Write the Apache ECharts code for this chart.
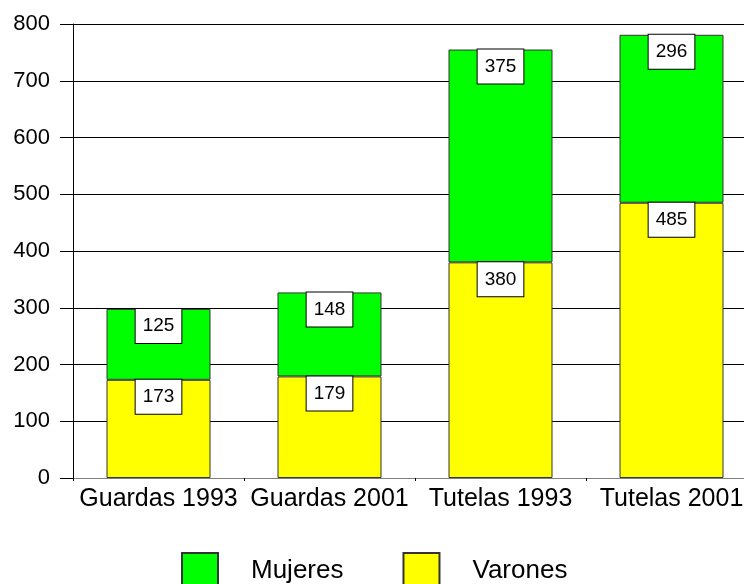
<!DOCTYPE html>
<html>
<head>
<meta charset="utf-8">
<script src="https://cdn.jsdelivr.net/npm/echarts@6/dist/echarts.min.js"></script>
<style>
  html, body { margin: 0; padding: 0; background: #fff; }
  #chart { width: 744px; height: 584px; }
</style>
</head>
<body>
<div id="chart"></div>
<script>
var categories = ["Guardas 1993", "Guardas 2001", "Tutelas 1993", "Tutelas 2001"];
var varones = [173, 179, 380, 485];
var mujeres = [125, 148, 375, 296];
var yTicks = { min: 0, max: 800, interval: 100 };

var chart = echarts.init(document.getElementById("chart"));

var labelStyle = {
  show: true,
  position: "insideTop",
  distance: 0,
  color: "#000",
  fontFamily: "Liberation Sans, Arial, sans-serif",
  fontSize: 19,
  lineHeight: 20,
  backgroundColor: "#fff",
  borderColor: "#000",
  borderWidth: 1,
  padding: [7, 7, 7, 7],
};

var options = {
  animation: false,
  textStyle: { fontFamily: "Liberation Sans, Arial, sans-serif" },
  grid: {
    left: 73,
    width: 684,
    top: 24,
    bottom: 106,
    containLabel: false,
    outerBoundsMode: "none",
  },
  legend: {
    data: ["Mujeres", "Varones"],
    left: 181,
    top: 552,
    padding: 0,
    itemWidth: 36,
    itemHeight: 36,
    itemGap: 59,
    icon: "rect",
    textStyle: {
      color: "#000",
      fontSize: 26,
      padding: [0, 0, 0, 28],
    },
  },
  xAxis: {
    type: "category",
    data: categories,
    axisLine: { lineStyle: { color: "#808080", width: 1 } },
    axisTick: { show: true, length: 3, lineStyle: { color: "#000" } },
    axisLabel: {
      interval: 0,
      color: "#000",
      fontSize: 25,
      margin: 9,
    },
  },
  yAxis: {
    type: "value",
    min: yTicks.min,
    max: yTicks.max,
    interval: yTicks.interval,
    axisLine: { show: true, lineStyle: { color: "#000" } },
    axisTick: { show: true, length: 13, lineStyle: { color: "#000" } },
    axisLabel: { color: "#000", fontSize: 22, margin: 23 },
    splitLine: { show: true, lineStyle: { color: "#000", width: 1 } },
  },
  series: [
    {
      name: "Varones",
      type: "bar",
      stack: "total",
      data: varones,
      barWidth: 104,
      itemStyle: { color: "#ffff00", borderColor: "#333", borderWidth: 1 },
      label: labelStyle,
    },
    {
      name: "Mujeres",
      type: "bar",
      stack: "total",
      data: mujeres,
      barWidth: 104,
      itemStyle: { color: "#00ff00", borderColor: "#333", borderWidth: 1 },
      label: labelStyle,
    },
  ],
};

chart.setOption(options, true);
</script>
</body>
</html>
